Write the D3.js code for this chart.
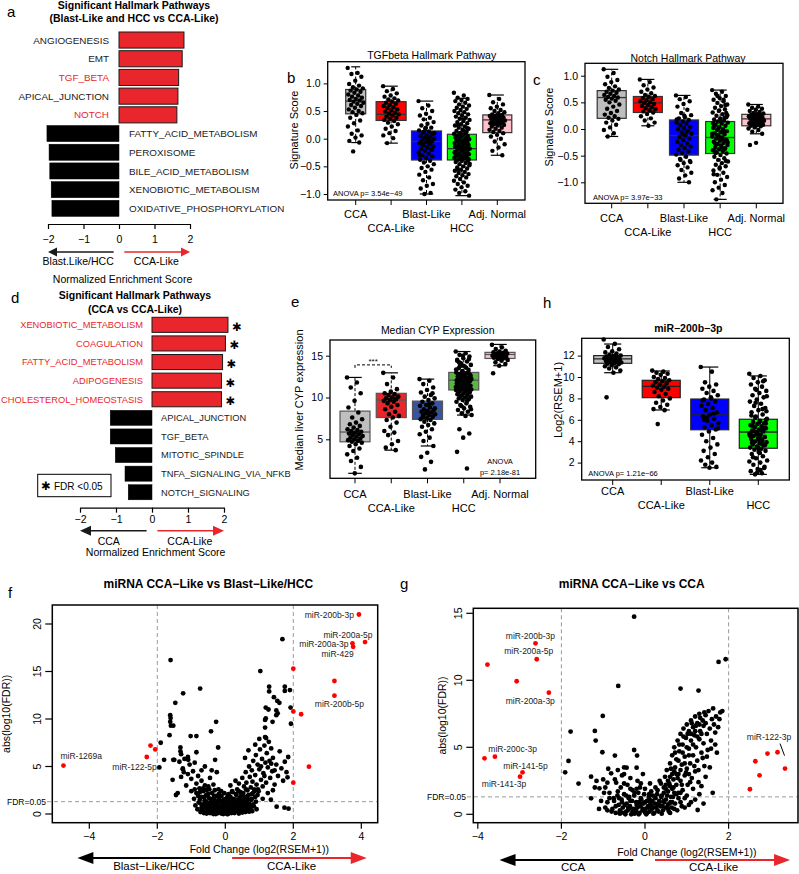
<!DOCTYPE html>
<html><head><meta charset="utf-8">
<script src="https://cdn.jsdelivr.net/npm/d3@7"></script>
<style>body{margin:0;background:#fff}</style>
</head><body><script>
// ================= DATA =================
// Panel a
const aPathways = ["ANGIOGENESIS","EMT","TGF_BETA","APICAL_JUNCTION","NOTCH","FATTY_ACID_METABOLISM","PEROXISOME","BILE_ACID_METABOLISM","XENOBIOTIC_METABOLISM","OXIDATIVE_PHOSPHORYLATION"];
const aNES = [1.83,1.78,1.68,1.66,1.63,-2.03,-1.97,-1.95,-1.91,-1.89];
const aRedLabels = ["TGF_BETA","NOTCH"];
// Panel d
const dPathways = ["XENOBIOTIC_METABOLISM","COAGULATION","FATTY_ACID_METABOLISM","ADIPOGENESIS","CHOLESTEROL_HOMEOSTASIS","APICAL_JUNCTION","TGF_BETA","MITOTIC_SPINDLE","TNFA_SIGNALING_VIA_NFKB","NOTCH_SIGNALING"];
const dNES = [2.11,2.04,1.96,1.93,1.93,-1.16,-1.16,-1.02,-0.75,-0.66];
const dSignificant = [true,true,true,true,true,false,false,false,false,false];
const nesTicks = [-2,-1,0,1,2];

// Box panels
const groups5 = ["CCA","CCA-Like","Blast-Like","HCC","Adj. Normal"];
const groups4 = ["CCA","CCA-Like","Blast-Like","HCC"];
const rColors = ["#bebebe","#ff0000","#0000ff","#00ff00","#ffc0cb"];
const eColors = ["#bfbfbf","#e8262b","#3653a4","#5ab545","#f6c3cc"];

// Panel b: TGFbeta [q1, median, q3, whiskerLow, whiskerHigh]
const bTicks = [-1,-0.5,0,0.5,1];
const bStats = [[0.45,0.68,0.89,-0.07,1.30],[0.33,0.44,0.67,-0.08,0.95],[-0.385,-0.05,0.14,-1.0,0.68],[-0.385,-0.18,0.08,-1.03,0.73],[0.11,0.34,0.43,-0.3,0.79]];
const bCCA = [1.28,1.19,1.17,1.12,1.05,0.99,0.96,0.93,0.91,0.89,0.87,0.85,0.83,0.8,0.78,0.76,0.74,0.72,0.7,0.69,0.67,0.65,0.63,0.61,0.59,0.56,0.53,0.5,0.48,0.46,0.43,0.38,0.33,0.28,0.22,0.15,0.09,0.06,0.02,-0.04,-0.07,-0.23];
const bCCALike = [0.95,0.9,0.86,0.82,0.78,0.76,0.73,0.71,0.69,0.67,0.65,0.63,0.61,0.59,0.57,0.55,0.53,0.51,0.49,0.47,0.45,0.44,0.42,0.4,0.38,0.36,0.34,0.32,0.29,0.26,0.22,0.18,0.14,0.1,0.06,0.01,-0.08];
const bBlast = [0.68,0.6,0.55,0.5,0.45,0.42,0.38,0.35,0.3,0.27,0.24,0.2,0.18,0.15,0.13,0.11,0.09,0.07,0.05,0.04,0.02,0.0,-0.02,-0.03,-0.05,-0.06,-0.08,-0.1,-0.12,-0.14,-0.16,-0.18,-0.2,-0.22,-0.25,-0.27,-0.3,-0.32,-0.35,-0.38,-0.4,-0.43,-0.46,-0.5,-0.53,-0.56,-0.6,-0.65,-0.7,-0.75,-0.82,-0.85,-0.9,-0.98,-1.0,0.1,0.0,-0.1,-0.2,0.2,-0.3,-0.05,0.12];
const bHCC = [0.83,0.78,0.74,0.72,0.7,0.68,0.65,0.62,0.6,0.58,0.56,0.54,0.52,0.5,0.48,0.46,0.44,0.42,0.4,0.38,0.36,0.34,0.32,0.3,0.28,0.26,0.24,0.22,0.2,0.18,0.16,0.14,0.12,0.1,0.09,0.08,0.06,0.05,0.04,0.02,0.01,0.0,-0.01,-0.03,-0.04,-0.05,-0.07,-0.08,-0.09,-0.11,-0.12,-0.13,-0.15,-0.16,-0.17,-0.18,-0.19,-0.2,-0.22,-0.23,-0.24,-0.26,-0.27,-0.28,-0.3,-0.31,-0.32,-0.34,-0.35,-0.36,-0.38,-0.39,-0.4,-0.42,-0.44,-0.46,-0.48,-0.5,-0.52,-0.54,-0.56,-0.58,-0.6,-0.62,-0.64,-0.66,-0.68,-0.7,-0.73,-0.76,-0.79,-0.82,-0.85,-0.88,-0.92,-0.95,-0.98,-1.03,0.15,0.05,-0.05,-0.15,-0.25,-0.35,0.25,-0.1,-0.2,-0.3,0.0,0.1,-0.45,0.35,-0.55,0.19,-0.06,-0.14,-0.21,-0.29,-0.37,0.07,-0.02,0.13];
const bAdj = [0.79,0.72,0.66,0.62,0.58,0.55,0.52,0.5,0.48,0.46,0.44,0.43,0.42,0.41,0.4,0.39,0.38,0.37,0.36,0.35,0.34,0.33,0.32,0.31,0.3,0.29,0.28,0.27,0.26,0.25,0.24,0.22,0.2,0.18,0.16,0.14,0.12,0.1,0.07,0.04,0.0,-0.05,-0.1,-0.16,-0.22,-0.3];

// Panel c: Notch
const cTicks = [-1,-0.5,0,0.5,1];
const cStats = [[0.2,0.59,0.72,-0.14,1.12],[0.31,0.49,0.61,0.06,0.93],[-0.49,-0.125,0.17,-1.0,0.63],[-0.46,-0.16,0.14,-1.32,0.73],[0.06,0.19,0.275,-0.09,0.46]];
const cCCA = [1.12,1.05,0.98,0.92,0.88,0.84,0.8,0.77,0.74,0.72,0.7,0.68,0.66,0.64,0.62,0.6,0.59,0.57,0.55,0.53,0.5,0.46,0.42,0.38,0.34,0.3,0.27,0.24,0.21,0.19,0.16,0.12,0.08,0.03,-0.02,-0.08,-0.14];
const cCCALike = [0.93,0.88,0.82,0.78,0.74,0.7,0.67,0.64,0.62,0.6,0.58,0.56,0.54,0.52,0.5,0.49,0.47,0.45,0.43,0.41,0.39,0.37,0.35,0.33,0.31,0.28,0.24,0.2,0.16,0.12,0.06];
const cBlast = [0.63,0.6,0.56,0.52,0.47,0.42,0.36,0.3,0.26,0.22,0.2,0.17,0.14,0.12,0.1,0.07,0.04,0.02,0.0,-0.03,-0.06,-0.09,-0.12,-0.15,-0.18,-0.21,-0.24,-0.27,-0.3,-0.33,-0.36,-0.39,-0.42,-0.45,-0.48,-0.52,-0.56,-0.6,-0.64,-0.68,-0.72,-0.77,-0.82,-0.87,-0.93,-1.0,-0.1,0.18,-0.05,-0.58,-0.62,0.25];
const cHCC = [0.73,0.7,0.66,0.62,0.58,0.55,0.52,0.49,0.46,0.43,0.4,0.37,0.34,0.31,0.28,0.25,0.22,0.2,0.18,0.16,0.14,0.12,0.1,0.08,0.06,0.04,0.02,0.0,-0.02,-0.04,-0.06,-0.08,-0.1,-0.12,-0.14,-0.16,-0.18,-0.2,-0.22,-0.24,-0.26,-0.28,-0.3,-0.32,-0.34,-0.36,-0.38,-0.4,-0.42,-0.44,-0.46,-0.49,-0.52,-0.55,-0.58,-0.61,-0.64,-0.67,-0.7,-0.74,-0.78,-0.82,-0.86,-0.9,-0.95,-1.0,-1.05,-1.1,-1.15,-1.2,-1.32,0.3,0.15,0.05,-0.05,-0.15,-0.25,-0.35,-0.45,0.45,0.35,0.11,-0.01,-0.11,-0.21,-0.31,-0.41,0.21,0.01,-0.09,-0.19,-0.29,-0.6,-0.72,-0.85,0.55,0.62,0.26,-0.17,-0.27,-0.37];
const cAdj = [0.46,0.42,0.4,0.38,0.36,0.34,0.32,0.3,0.29,0.28,0.27,0.26,0.25,0.24,0.23,0.22,0.21,0.2,0.19,0.18,0.17,0.16,0.15,0.14,0.13,0.12,0.11,0.1,0.09,0.08,0.07,0.06,0.05,0.03,0.01,-0.02,-0.05,-0.09,-0.26,-0.3,0.215,0.185,0.155,0.125,0.095,0.245,0.275];

// Panel e: median CYP
const eTicks = [5,10,15];
const eStats = [[4.7,5.87,8.37,0.93,12.4],[7.6,9.7,10.5,3.7,12.95],[7.38,8.5,9.57,4.2,12.2],[10.9,12.08,13.0,7.9,15.5],[14.67,15.15,15.4,13.8,16.35]];
const eCCA = [12.4,11.8,11.2,10.5,9.6,8.8,8.2,7.6,7.4,7.0,6.8,6.6,6.4,6.2,6.1,6.0,5.9,5.8,5.7,5.6,5.5,5.4,5.3,5.2,5.1,5.0,4.9,4.8,4.7,4.6,4.4,4.2,3.9,3.6,3.2,2.8,2.4,1.7,0.93];
const eCCALike = [12.95,12.4,11.6,11.0,10.7,10.5,10.4,10.3,10.1,10.0,9.9,9.8,9.7,9.6,9.5,9.3,9.1,8.9,8.6,8.3,8.0,7.8,7.6,7.3,7.0,6.5,6.0,5.8,5.5,4.8,4.4,4.0,3.7];
const eBlast = [12.2,12.0,11.6,11.2,10.9,10.6,10.3,10.1,9.9,9.7,9.5,9.3,9.1,9.0,8.8,8.6,8.5,8.4,8.3,8.2,8.1,8.0,7.9,7.8,7.7,7.5,7.4,7.3,7.1,6.9,6.7,6.5,6.2,5.9,5.6,5.2,4.8,4.2,3.4,2.9,2.3,1.4,8.7,9.2,7.6,10.5];
const eHCC = [15.5,15.3,15.1,14.9,14.7,14.5,14.3,14.1,13.9,13.7,13.5,13.3,13.1,13.0,12.9,12.8,12.7,12.6,12.5,12.4,12.3,12.2,12.1,12.0,11.9,11.8,11.7,11.6,11.5,11.4,11.3,11.2,11.1,11.0,10.9,10.8,10.7,10.6,10.5,10.4,10.3,10.2,10.1,10.0,9.9,9.8,9.7,9.5,9.3,9.1,8.9,8.7,8.5,8.3,8.1,7.9,7.8,6.2,5.7,5.2,3.5,1.5,12.15,12.35,12.55,12.75,12.95,13.15,13.35,13.55,13.75,11.95,11.75,11.55,11.35,11.15,10.95,10.75,14.2,14.6,15.0,12.05,12.25,12.45,12.65,12.85,11.85,11.65,11.45,11.25,11.05,10.85,10.65,13.8,14.4,9.6,9.0,8.6];
const eAdj = [16.3,16.0,15.8,15.6,15.5,15.4,15.35,15.3,15.25,15.2,15.15,15.1,15.05,15.0,14.95,14.9,14.85,14.8,14.75,14.7,14.6,14.5,14.4,14.2,14.0,13.8,12.9];

// Panel h: miR-200b-3p
const hTicks = [2,4,6,8,10,12];
const hStats = [[11.28,11.7,12.0,10.4,13.08],[8.07,9.13,9.69,6.92,10.56],[5.07,6.45,7.94,1.52,10.93],[3.34,4.86,6.05,0.9,10.1]];
const hCCA = [13.5,13.1,12.8,12.6,12.4,12.3,12.2,12.1,12.0,11.95,11.9,11.85,11.8,11.75,11.7,11.65,11.6,11.55,11.5,11.45,11.4,11.35,11.3,11.25,11.2,11.1,11.0,10.9,10.8,10.6,10.4,8.1];
const hCCALike = [10.6,10.5,10.4,10.3,10.2,10.0,9.9,9.8,9.7,9.6,9.5,9.4,9.3,9.2,9.1,9.0,8.9,8.8,8.6,8.4,8.2,8.0,7.8,7.6,7.4,7.2,7.0,6.9,5.6];
const hBlast = [10.93,10.5,9.5,9.3,9.1,8.9,8.7,8.5,8.3,8.1,7.9,7.7,7.5,7.3,7.1,6.9,6.7,6.5,6.3,6.1,5.9,5.7,5.5,5.3,5.1,4.9,4.6,4.3,4.0,3.7,3.4,3.1,2.8,2.5,2.2,2.0,1.8,1.6,1.52,7.8,6.6,6.2,5.2,8.0,6.0];
const hHCC = [10.3,10.1,9.9,9.7,9.5,9.3,9.1,8.9,8.7,8.5,8.3,8.1,7.9,7.7,7.5,7.3,7.1,6.9,6.7,6.5,6.3,6.1,5.9,5.8,5.7,5.6,5.5,5.4,5.3,5.2,5.1,5.0,4.9,4.8,4.7,4.6,4.5,4.4,4.3,4.2,4.1,4.0,3.9,3.8,3.7,3.6,3.5,3.4,3.3,3.2,3.1,3.0,2.8,2.6,2.4,2.2,2.0,1.8,1.6,1.4,1.2,1.0,0.9,6.0,5.75,5.45,5.15,4.85,4.55,4.25,3.95,3.65,3.35,6.4,7.0,7.6,8.2,2.9,2.5,1.5,1.1,4.75,5.05,5.35,5.65,4.15,3.85,9.6,8.8,2.1,1.3,4.95,5.25,4.65,4.35,3.75,6.2,6.8];

// Panel f: volcano miRNA CCA-Like vs Blast-Like/HCC  [log2FC, abs(log10 FDR)]
const fTicksX = [-4,-2,0,2,4];
const fTicksY = [0,5,10,15,20];
const fRed = [["miR-200b-3p",3.93,21.0],["miR-200a-5p",4.11,18.1],["miR-200a-3p",3.74,17.97],["miR-429",3.76,17.6],["",3.21,14.0],["miR-200b-5p",3.21,12.45],["",2.0,15.3],["",2.0,10.8],["",2.23,10.5],["",2.46,4.98],["",2.0,3.3],["miR-1269a",-4.76,5.1],["",-2.2,7.2],["",-2.06,6.8],["miR-122-5p",-2.31,6.0]];
const fBlack = [[-0.8,1.9],[-0.75,1.5],[-0.7,1.0],[-0.68,0.4],[-0.62,1.8],[-0.6,0.8],[-0.58,0.2],[-0.55,1.3],[-0.52,0.5],[-0.5,2.1],[-0.48,0.9],[-0.45,0.1],[-0.43,1.6],[-0.4,0.6],[-0.38,1.1],[-0.36,0.3],[-0.33,1.9],[-0.3,0.8],[-0.28,0.0],[-0.26,1.4],[-0.24,0.5],[-0.22,1.0],[-0.2,0.2],[-0.18,1.7],[-0.16,0.7],[-0.14,0.1],[-0.12,1.2],[-0.1,0.4],[-0.08,0.9],[-0.06,0.0],[-0.04,1.5],[-0.02,0.6],[0,0.2],[0.02,1.1],[0.04,0.4],[0.06,1.8],[0.08,0.0],[0.1,0.8],[0.12,1.4],[0.14,0.3],[0.16,1.0],[0.18,0.1],[0.2,1.6],[0.22,0.5],[0.24,0.9],[0.26,0.2],[0.28,1.3],[0.3,0.6],[0.33,2.0],[0.36,0.3],[0.38,1.1],[0.4,0.7],[0.43,1.7],[0.46,0.4],[0.48,1.2],[0.5,0.9],[0.53,2.2],[0.56,0.5],[0.6,1.4],[0.63,0.8],[0.66,1.9],[0.7,1.1],[0.74,0.6],[0.78,1.6],[0.82,1.0],[0.86,2.4],[0.9,1.3],
[-0.92,1.6],[-0.88,0.9],[-0.85,2.2],[-0.82,0.5],[-0.78,1.2],[-0.76,2.7],[-0.73,0.2],[-0.71,1.8],[-0.67,0.9],[-0.65,2.4],[-0.63,0.1],[-0.61,1.4],[-0.57,0.6],[-0.56,2.0],[-0.53,1.1],[-0.51,0.3],[-0.49,1.7],[-0.47,2.6],[-0.44,0.8],[-0.42,1.3],[-0.41,0.2],[-0.39,2.2],[-0.37,0.5],[-0.34,1.5],[-0.32,0.9],[-0.31,2.5],[-0.29,0.3],[-0.27,1.9],[-0.25,0.8],[-0.23,1.2],[-0.21,0.1],[-0.19,2.1],[-0.17,0.4],[-0.15,1.4],[-0.13,0.7],[-0.11,1.9],[-0.09,0.2],[-0.07,1.2],[-0.05,0.7],[-0.03,2.2],[-0.01,0.3],[0.01,1.6],[0.03,0.8],[0.05,0.0],[0.07,1.3],[0.09,2.1],[0.11,0.5],[0.13,0.9],[0.15,1.8],[0.17,0.2],[0.19,1.2],[0.21,2.3],[0.23,0.7],[0.25,1.6],[0.27,0.1],[0.29,1.0],[0.31,2.1],[0.34,0.4],[0.35,1.5],[0.37,0.9],[0.39,2.4],[0.41,0.2],[0.42,1.3],[0.44,0.8],[0.47,2.0],[0.49,0.3],[0.51,1.5],[0.54,0.7],[0.57,1.8],[0.59,0.2],[0.61,2.6],[0.64,1.2],[0.67,0.4],[0.69,2.0],[0.72,0.9],[0.76,1.5],[0.79,0.3],[0.81,2.2],[0.84,0.8],[0.88,1.8],[0.92,0.5],[0.96,2.6],
[-0.55,0.05],[-0.35,0.0],[-0.15,0.35],[0.0,0.55],[0.2,0.35],[0.4,0.05],[0.6,0.6],[-0.45,0.45],[0.32,0.75],[-0.25,0.6],[0.1,0.15],[0.5,0.15],[-0.7,0.65],[0.7,0.25],[-0.1,0.05],[0.45,1.0],[-0.4,0.95],[0.25,0.45],[-0.05,1.0],[0.15,1.35],[-0.3,1.15],[0.05,0.75],[0.35,1.2],[-0.2,0.45],[0.55,1.1],[-0.6,1.1],[0.65,1.5],[-0.35,1.6],[0.1,1.95],[-0.12,2.4],
[-0.55,2.5],[-0.6,3.0],[-0.65,2.7],[-0.7,3.5],[-0.75,2.3],[-0.8,4.0],[-0.85,3.2],[-0.9,2.6],[-0.95,4.5],[-1.0,3.7],[-1.05,5.2],[-1.1,4.2],[-1.15,3.0],[-1.2,5.8],[-1.25,4.8],[-1.3,6.3],[-1.35,5.5],[-1.4,2.2],[-1.45,2.0],[-1.5,5.7],[-1.55,3.6],[-0.45,3.8],[-0.4,4.6],[-0.3,5.7],[-0.25,4.4],[-0.6,5.0],[-0.7,4.6],[-0.5,2.9],[-0.9,5.4],[-0.85,6.5],[-1.1,6.0],[-0.35,3.1],[-0.2,2.6],[-1.0,2.4],[-1.3,3.9],[-1.09,5.7],[-1.25,4.7],[-1.22,4.4],
[-1.61,16.2],[-0.74,13.2],[-1.24,12.7],[-1.47,11.7],[-1.62,10.4],[-1.61,10.1],[-1.62,9.7],[-1.6,9.3],[-1.53,9.3],[-0.27,9.7],[-1.9,7.5],[-1.64,8.3],[-1.02,8.2],[-0.85,8.2],[-0.42,8.7],[-0.21,7.0],[-1.32,7.0],[-1.32,6.6],[-1.8,5.7],[-1.53,5.7],[-1.94,4.9],
[0.35,2.6],[0.4,3.2],[0.45,2.3],[0.5,3.8],[0.55,2.9],[0.6,4.4],[0.62,3.3],[0.65,2.5],[0.7,5.0],[0.72,3.9],[0.75,2.8],[0.78,4.6],[0.8,3.4],[0.82,5.6],[0.85,2.6],[0.88,4.1],[0.9,6.2],[0.92,3.1],[0.95,5.2],[0.98,2.4],[1.0,4.7],[1.02,6.8],[1.05,3.6],[1.08,5.8],[1.1,2.9],[1.12,4.3],[1.15,7.2],[1.18,5.4],[1.2,3.3],[1.22,6.4],[1.25,4.9],[1.28,7.6],[1.3,5.6],[1.32,3.8],[1.35,6.9],[1.38,4.5],[1.4,5.9],[1.45,3.1],[1.5,5.2],[1.55,4.0],[1.6,6.6],[1.65,4.8],[1.7,3.5],[1.75,5.5],[1.8,4.4],[1.85,6.0],[0.58,5.9],[0.68,6.7],[0.88,7.3],[1.0,7.9],[0.78,2.1],[0.95,2.0],[1.1,1.6],[1.25,2.2],[1.4,2.5],[0.3,3.5],[0.2,2.4],[0.15,3.0],[1.2,8.0],[1.35,5.3],[1.45,4.6],[1.05,5.0],[1.15,4.0],
[1.68,18.4],[1.03,15.05],[1.29,13.4],[1.29,12.9],[1.75,13.4],[1.75,12.95],[1.9,13.05],[1.43,12.3],[1.53,11.9],[1.59,11.7],[1.19,11.2],[1.27,11.0],[1.5,10.9],[1.92,11.2],[1.54,10.6],[1.5,10.4],[1.19,10.07],[1.17,9.9],[1.39,9.7],[1.93,9.5],[1.17,9.1],[1.17,8.1],[1.83,3.86],[1.34,1.5],[1.51,0.77],[1.74,0.67],[1.86,0.56]];

// Panel g: volcano miRNA CCA-Like vs CCA
const gTicksX = [-4,-2,0,2];
const gTicksY = [0,5,10,15];
const gRed = [["miR-200b-3p",-2.62,12.76],["miR-200a-5p",-2.59,11.57],["",-3.77,11.17],["",-3.07,9.93],["miR-200a-3p",-2.3,9.08],["miR-200c-3p",-3.59,4.3],["",-3.84,4.18],["miR-141-5p",-2.93,3.13],["miR-141-3p",-2.99,2.81],["",2.51,1.87],["",2.64,3.96],["",2.74,2.91],["",2.93,4.53],["",3.17,4.63],["miR-122-3p",3.35,3.41]];
const gBlack = [[-0.26,14.75],[-0.64,9.58],[0.85,9.38],[1.28,9.23],[1.76,11.37],[1.93,11.57],[-1.01,7.34],[-1.78,6.17],[-1.2,6.22],[-1.18,5.5],[-1.83,3.98],[-1.91,3.13],[-1.59,2.29],[-1.02,4.63],[-0.72,4.38],[-1.29,1.19],[-0.26,4.8],[-0.19,4.38],[-1.29,2.81],[-1.16,2.49],[-1.09,1.94],[-0.81,3.06],[-0.9,2.36],[-0.69,2.36],[-0.44,3.48],[-0.2,3.48],[-0.5,3.0],
[0.2,0.5],[0.25,1.2],[0.3,0.3],[0.3,1.8],[0.35,0.9],[0.38,2.3],[0.4,1.4],[0.42,0.6],[0.45,2.0],[0.48,2.8],[0.5,1.1],[0.52,3.3],[0.55,1.7],[0.55,2.5],[0.58,0.8],[0.6,3.8],[0.6,2.1],[0.62,1.3],[0.65,3.0],[0.65,4.4],[0.68,2.6],[0.7,1.6],[0.7,5.0],[0.72,3.5],[0.75,2.2],[0.75,4.1],[0.78,5.5],[0.8,3.0],[0.8,1.2],[0.82,4.7],[0.85,2.5],[0.85,6.0],[0.88,3.7],[0.9,5.2],[0.9,1.8],[0.92,6.4],[0.95,4.3],[0.95,2.9],[0.98,5.7],[1.0,3.4],[1.0,6.7],[1.02,2.2],[1.05,4.9],[1.05,6.2],[1.08,3.8],[1.1,5.5],[1.1,7.0],[1.12,2.7],[1.15,4.4],[1.15,6.5],[1.18,5.9],[1.2,3.2],[1.2,7.3],[1.22,5.0],[1.25,6.8],[1.25,4.0],[1.28,2.4],[1.3,5.6],[1.3,7.5],[1.32,6.2],[1.35,4.6],[1.38,7.0],[1.4,5.3],[1.4,6.6],[1.42,3.6],[1.45,7.4],[1.48,6.0],[1.5,4.8],[1.52,7.7],[1.55,6.4],[1.58,5.5],[1.6,7.1],[1.63,7.9],[1.65,6.7],[1.7,7.3],[1.75,6.5],[1.8,7.6],[1.85,7.7],[1.68,5.2],[1.72,4.6],[1.45,2.8],[1.55,3.5],[1.3,1.5],[1.26,0.32],[1.1,0.9],[0.95,0.5],[1.0,1.4],[1.35,2.1],[1.62,1.6],[1.4,0.8],[0.7,0.4],[0.85,0.9],
[0.6,2.8],[0.7,3.2],[0.8,4.0],[0.9,4.6],[1.0,5.0],[1.1,6.0],[1.2,6.2],[1.3,6.7],[0.75,3.0],[0.95,3.8],[1.05,4.4],[1.15,5.2],[1.25,5.8],[1.35,6.0],[1.45,6.8],[0.65,1.9],[0.85,3.3],[1.05,3.0],[0.62,3.4],[0.72,4.6],[0.82,5.2],[0.92,5.8],[1.02,6.0],[1.12,6.8],[1.22,6.6],[1.32,7.2],[1.42,7.6],[0.58,2.3],[0.68,2.0],[0.78,2.7],[0.88,2.2],[0.98,3.1],[1.08,2.4],[1.18,3.6],[1.28,3.3],[1.38,4.2],[1.48,4.3],[1.58,4.9],[1.68,6.1],[1.78,7.1],[0.5,1.9],[0.45,1.0],[0.55,0.4],[0.65,0.9],[0.75,1.5],[0.85,1.6],[0.95,1.2],[1.15,1.9],[1.05,0.7],[1.2,1.1],
[-0.6,0.3],[-0.55,0.9],[-0.5,0.1],[-0.45,1.4],[-0.4,0.5],[-0.35,1.0],[-0.3,0.2],[-0.25,1.6],[-0.2,0.7],[-0.15,0.0],[-0.1,1.2],[-0.05,0.4],[0,0.9],[0.05,0.1],[0.1,1.5],[0.15,0.6],[-0.65,1.7],[-0.7,0.6],[-0.75,1.2],[-0.8,0.2],[-0.85,1.6],[-0.9,0.9],[-0.58,2.0],[-0.42,2.2],[-0.3,1.8],[-0.12,2.0],[0.0,1.9],[0.12,2.3],[-0.48,0.7],[-0.22,0.3],[-0.08,0.8],[0.08,0.5],[0.18,1.0],[-0.38,1.3],[-0.62,1.2],[-0.95,2.0],[-1.0,2.6],[-0.72,2.6],[-0.55,2.9],[-0.35,2.7],[-0.18,2.5],[-0.05,3.0],[-0.88,3.4],[-0.65,3.3],[-0.5,3.5],
[-0.78,0.4],[-0.74,1.0],[-0.7,0.1],[-0.66,1.4],[-0.63,0.7],[-0.59,0.2],[-0.56,1.1],[-0.53,0.5],[-0.5,1.5],[-0.47,0.0],[-0.44,0.8],[-0.41,0.3],[-0.39,1.2],[-0.36,0.6],[-0.33,0.0],[-0.31,1.0],[-0.28,0.4],[-0.26,1.4],[-0.23,0.2],[-0.21,0.9],[-0.18,0.5],[-0.16,1.6],[-0.13,0.1],[-0.11,0.6],[-0.09,1.1],[-0.06,0.3],[-0.04,0.8],[-0.02,1.5],[0.01,0.4],[0.03,0.0],[0.05,1.0],[0.07,0.6],[0.09,1.3],[0.11,0.2],[0.13,0.8],[0.16,0.4],[0.19,1.4],[0.22,0.1],[0.24,0.8],[0.27,0.5],[0.29,1.5],[0.32,0.2],[0.34,1.0],[0.37,0.6],[0.39,1.3],[0.43,0.3],[0.46,0.9],[0.5,0.5],[0.53,1.4],[0.57,0.2],[0.61,0.9],[0.64,0.5],[0.67,1.3],[0.72,0.8],[0.77,0.3],[0.8,1.6],[0.88,0.6],[-0.35,1.9],[-0.2,1.9],[0.25,2.0],[0.45,1.6],[-0.5,2.3],[0.15,1.7],[0.35,2.5],[0.5,2.2],[-0.1,2.3],[-0.45,0.2],[0.0,0.15],[-0.25,0.05],[0.2,0.05],[0.4,0.05],[-0.6,0.05],[0.6,0.1],[-0.15,0.9],[0.12,1.05],[-0.38,0.45],[0.3,0.75],[0.55,0.7],[-1.05,1.0],[-0.95,0.5],[-0.85,1.2],[-1.2,2.0],[-0.98,1.6],[-0.9,0.3],[-1.1,0.4]];
const fdrCut = 1.3;
const fcCut = [-2,2];

// ================= DRAWING =================
const FONT = '"Liberation Sans", Arial, Helvetica, sans-serif';
const svg = d3.select("body").append("svg").attr("width",799).attr("height",874)
  .style("font-family",FONT).style("background","#fff");

function text(x,y,s,o={}){
  const t = svg.append("text").attr("x",x).attr("y",y).text(s)
    .attr("font-size",o.fs||10).attr("fill",o.fill||"#000")
    .attr("text-anchor",o.anchor||"start");
  if(o.bold) t.attr("font-weight","bold");
  if(o.rot) t.attr("transform",`rotate(${o.rot},${x},${y})`);
  if(o.family) t.attr("font-family",o.family);
  return t;
}
function arrow(x1,x2,y,color,w,hl,hw){
  const dir = Math.sign(x2-x1);
  svg.append("line").attr("x1",x1).attr("x2",x2-dir*hl*0.9).attr("y1",y).attr("y2",y)
    .attr("stroke",color).attr("stroke-width",w);
  svg.append("path").attr("d",`M${x2},${y} L${x2-dir*hl},${y-hw} L${x2-dir*hl},${y+hw} Z`).attr("fill",color);
}

// panel letters
[["a",7,17],["b",287,83],["c",533,85],["d",11,303],["e",291,307],["h",543,308],["f",8,598],["g",400,589]]
  .forEach(([l,x,y])=>text(x,y,l,{fs:15}));

// ----- bar panels -----
function barPanel(o){
  const x = d3.scaleLinear().domain([-2,2]).range(o.xr);
  const y = d3.scaleBand().domain(o.names).range(o.yr).paddingInner(o.pad);
  o.names.forEach((n,i)=>{
    const v = o.vals[i];
    svg.append("rect").attr("x",Math.min(x(0),x(v))).attr("y",y(n))
      .attr("width",Math.abs(x(v)-x(0))).attr("height",y.bandwidth())
      .attr("fill",v>0?"#e8262b":"#000").attr("stroke",v>0?"#1a1a1a":"#000").attr("stroke-width",v>0?1:0.5);
    const redLabel = o.redLabel(n,i);
    text(v>0?x(0)-o.lgap:x(0)+o.lgap, y(n)+y.bandwidth()/2+o.fs*0.36, n,
      {fs:o.fs, anchor:v>0?"end":"start", fill:redLabel?"#e8262b":"#1a1a1a"});
    if(o.star && o.star[i]) text(x(v)+4, y(n)+y.bandwidth()/2+6, "\u2731",{fs:11.5, family:"DejaVu Sans"});
  });
  const ax = svg.append("g").attr("transform",`translate(0,${o.axisY})`)
    .call(d3.axisBottom(x).tickValues(nesTicks).tickSize(5).tickPadding(o.tpad).tickSizeOuter(0).tickFormat(d3.format("d")));
  ax.attr("font-family",FONT).attr("font-size",o.tfs);
  ax.select(".domain").attr("stroke-width",1.2);
  ax.selectAll("line").attr("stroke-width",1.2);
  arrow(x(-0.15),x(-2),o.arrowY,"#1a1a1a",1.6,o.hl,o.hw);
  arrow(x(0.15),x(2),o.arrowY,"#e8262b",1.6,o.hl,o.hw);
  return x;
}
// a
text(134,9,"Significant Hallmark Pathways",{fs:10.5,bold:true,anchor:"middle"});
text(134,22,"(Blast-Like and HCC vs CCA-Like)",{fs:10.5,bold:true,anchor:"middle"});
const xa = barPanel({names:aPathways, vals:aNES, xr:[48,190], yr:[32,216.4], pad:0.14, fs:9.9, lgap:10,
  redLabel:(n)=>aRedLabels.includes(n), axisY:224, tpad:7, tfs:10.5, arrowY:252, hl:9, hw:4.5});
text(xa(-1.15),265,"Blast.Like/HCC",{fs:10.5,anchor:"middle"});
text(xa(1.05),265,"CCA-Like",{fs:10.5,anchor:"middle"});
text(xa(0.1),283,"Normalized Enrichment Score",{fs:10.5,anchor:"middle"});
// d
text(135,299,"Significant Hallmark Pathways",{fs:10.5,bold:true,anchor:"middle"});
text(135,313,"(CCA vs CCA-Like)",{fs:10.5,bold:true,anchor:"middle"});
const xd = barPanel({names:dPathways, vals:dNES, xr:[80,224], yr:[317.3,499.8], pad:0.19, fs:9.3, lgap:9,
  redLabel:(n,i)=>dNES[i]>0, star:dSignificant, axisY:507.7, tpad:3, tfs:10.5, arrowY:530.7, hl:11, hw:5});
text(xd(-1.2),545,"CCA",{fs:10.5,anchor:"middle"});
text(xd(1.05),545,"CCA-Like",{fs:10.5,anchor:"middle"});
text(xd(0.1),556,"Normalized Enrichment Score",{fs:10.5,anchor:"middle"});
svg.append("rect").attr("x",37.7).attr("y",474.3).attr("width",73.3).attr("height",22.4).attr("fill","#fff").attr("stroke","#000").attr("stroke-width",1);
text(41,490,"\u2731",{fs:11.5,family:"DejaVu Sans"});
text(54,489.5,"FDR <0.05",{fs:10});

// ----- box panels -----
const jit = j => ((j*0.6180339887)%1)*2-1;
function boxPanel(o){
  const x = d3.scalePoint().domain(o.groups).range(o.xr);
  const y = d3.scaleLinear().domain(o.yd).range(o.yr);
  svg.append("rect").attr("x",o.f[0]).attr("y",o.f[1]).attr("width",o.f[2]-o.f[0]).attr("height",o.f[3]-o.f[1])
    .attr("fill","none").attr("stroke","#000").attr("stroke-width",1.3);
  const ya = svg.append("g").attr("transform",`translate(${o.f[0]},0)`)
    .call(d3.axisLeft(y).tickValues(o.ticks).tickSize(4).tickPadding(3).tickFormat(o.fmt));
  ya.attr("font-family",FONT).attr("font-size",o.tfs);
  ya.select(".domain").remove();
  o.groups.forEach((g,i)=>{
    const cx = x(g);
    svg.append("line").attr("x1",cx).attr("x2",cx).attr("y1",o.f[3]).attr("y2",o.f[3]+5).attr("stroke","#000");
    text(cx, i%2===0?o.lab[0]:o.lab[1], g, {fs:o.lfs, anchor:"middle"});
    const [q1,md,q3,lo,hi] = o.stats[i];
    const w = Array.isArray(o.bw)?o.bw[i]:o.bw;
    const cw = w*0.45;
    [[q3,hi],[q1,lo]].forEach(([a,b])=>{
      svg.append("line").attr("x1",cx).attr("x2",cx).attr("y1",y(a)).attr("y2",y(b))
        .attr("stroke","#000").attr("stroke-width",1).attr("stroke-dasharray",o.dash?"3,2":null);
      svg.append("line").attr("x1",cx-cw/2).attr("x2",cx+cw/2).attr("y1",y(b)).attr("y2",y(b))
        .attr("stroke","#000").attr("stroke-width",1.2);
    });
    svg.append("rect").attr("x",cx-w/2).attr("y",y(q3)).attr("width",w).attr("height",y(q1)-y(q3))
      .attr("fill",o.colors[i]).attr("stroke",o.stroke).attr("stroke-width",1.2);
    svg.append("line").attr("x1",cx-w/2).attr("x2",cx+w/2).attr("y1",y(md)).attr("y2",y(md))
      .attr("stroke",o.stroke).attr("stroke-width",1.3);
    o.pts[i].forEach((v,j)=>{
      svg.append("circle").attr("cx",cx+jit(j)*o.jw).attr("cy",y(v)).attr("r",o.r).attr("fill","#000");
    });
  });
  return {x,y};
}
const f1 = d3.format(".1f");
// b
text(431.7,59,"TGFbeta Hallmark Pathway",{fs:10.5,anchor:"middle"});
boxPanel({groups:groups5, xr:[355.7,497.3], yd:[0,1], yr:[138.7,83.4], f:[327.7,61.7,525,200],
  ticks:bTicks, fmt:f1, tfs:10.5, lab:[218,232], lfs:11, stats:bStats, bw:[20,30,30,29,29], dash:true,
  colors:rColors, stroke:"#333", pts:[bCCA,bCCALike,bBlast,bHCC,bAdj], jw:8, r:2.2});
text(298,130,"Signature Score",{fs:11,anchor:"middle",rot:-90});
text(333,196,"ANOVA p= 3.54e\u221249",{fs:7.5});
// c
text(688,62,"Notch Hallmark Pathway",{fs:10.5,anchor:"middle"});
boxPanel({groups:groups5, xr:[611.7,756.3], yd:[0,1], yr:[129,75.7], f:[585,63.3,783,203.3],
  ticks:cTicks, fmt:f1, tfs:10.5, lab:[222,236], lfs:11, stats:cStats, bw:29, dash:true,
  colors:rColors, stroke:"#333", pts:[cCCA,cCCALike,cBlast,cHCC,cAdj], jw:8, r:2.2});
text(553,127,"Signature Score",{fs:11,anchor:"middle",rot:-90});
text(593,200,"ANOVA p= 3.97e\u221233",{fs:7.5});
// e
text(437.7,334,"Median CYP Expression",{fs:10.5,anchor:"middle"});
const eb = boxPanel({groups:groups5, xr:[355,500], yd:[0,15], yr:[481.1,355.7], f:[330,340,535.7,478.3],
  ticks:eTicks, fmt:d3.format("d"), tfs:10.5, lab:[498,512], lfs:11, stats:eStats, bw:30, dash:true,
  colors:eColors, stroke:"#555", pts:[eCCA,eCCALike,eBlast,eHCC,eAdj], jw:8, r:2.3});
text(303,400,"Median liver CYP expression",{fs:11,anchor:"middle",rot:-90});
{
  const yb = eb.y(13.9);
  svg.append("path").attr("d",`M${eb.x("CCA")},${yb+3} V${yb} H${eb.x("CCA-Like")} V${yb+3}`)
    .attr("fill","none").attr("stroke","#000").attr("stroke-dasharray","3,2");
  text((eb.x("CCA")+eb.x("CCA-Like"))/2, yb-1, "***",{fs:8,anchor:"middle"});
}
text(500,464,"ANOVA",{fs:7.5,anchor:"middle"});
text(500,474.5,"p= 2.18e-81",{fs:7.5,anchor:"middle"});
// h
text(688.3,332,"miR\u2212200b\u22123p",{fs:10.5,bold:true,anchor:"middle"});
boxPanel({groups:groups4, xr:[612.7,758.3], yd:[0,12], yr:[484,355.6], f:[581.7,338.3,789.3,480],
  ticks:hTicks, fmt:d3.format("d"), tfs:10.5, lab:[495,509], lfs:11, stats:hStats, bw:38, dash:false,
  colors:rColors, stroke:"#222", pts:[hCCA,hCCALike,hBlast,hHCC], jw:9, r:2.3});
text(562,400,"Log2(RSEM+1)",{fs:11,anchor:"middle",rot:-90});
text(588.3,476,"ANOVA p= 1.21e\u221266",{fs:7.5});

// ----- volcano panels -----
function volcano(o){
  const x = d3.scaleLinear().domain([0,2]).range([o.x0,o.x2]);
  const y = d3.scaleLinear().domain([0,5]).range([o.y0,o.y5]);
  const [L,T,R,B] = o.f;
  fcCut.forEach(c=>svg.append("line").attr("x1",x(c)).attr("x2",x(c)).attr("y1",T).attr("y2",B)
    .attr("stroke","#9a9a9a").attr("stroke-dasharray","4,3"));
  svg.append("line").attr("x1",o.fdrX1).attr("x2",R).attr("y1",y(fdrCut)).attr("y2",y(fdrCut))
    .attr("stroke","#9a9a9a").attr("stroke-dasharray","4,3");
  text(o.fdrX1-1,y(fdrCut)+3,"FDR=0.05",{fs:8.5,anchor:"end"});
  o.black.forEach(([a,b])=>svg.append("circle").attr("cx",x(a)).attr("cy",y(b)).attr("r",2.4).attr("fill","#000"));
  o.red.forEach(([n,a,b])=>svg.append("circle").attr("cx",x(a)).attr("cy",y(b)).attr("r",2.4).attr("fill","#ff0000"));
  o.red.forEach(([n,a,b])=>{
    if(!n) return; const L2 = o.labels[n];
    text(x(a)+L2[0], y(b)+L2[1], n, {fs:8.5, anchor:L2[2], fill:"#222"});
    if(L2[3]) svg.append("line").attr("x1",x(a)+L2[3][0]).attr("y1",y(b)+L2[3][1]).attr("x2",x(a)+L2[3][2]).attr("y2",y(b)+L2[3][3]).attr("stroke","#000");
  });
  svg.append("rect").attr("x",L).attr("y",T).attr("width",R-L).attr("height",B-T).attr("fill","none").attr("stroke","#000").attr("stroke-width",1.5);
  o.tx.forEach(t=>{
    svg.append("line").attr("x1",x(t)).attr("x2",x(t)).attr("y1",B).attr("y2",B+6).attr("stroke","#000").attr("stroke-width",1.2);
    text(x(t),B+17,d3.format("d")(t),{fs:10.5,anchor:"middle"});
  });
  o.ty.forEach(t=>{
    svg.append("line").attr("x1",L-7).attr("x2",L).attr("y1",y(t)).attr("y2",y(t)).attr("stroke","#000").attr("stroke-width",1.2);
    text(L-11,y(t),String(t),{fs:10.5,anchor:"middle",rot:-90});
  });
  text((o.x0+o.x2)/2 + (o.xlOff||0), o.xlY, "Fold Change (log2(RSEM+1))",{fs:10.5,anchor:"middle"});
  text(o.ylX, (T+B)/2, "abs(log10(FDR))",{fs:10.5,anchor:"middle",rot:-90});
  text(o.titleX, 588, o.title, {fs:12, anchor:"middle", bold:true});
  arrow(x(o.arB[0]),x(o.arB[1]),o.arY,"#000",2,16,6);
  arrow(x(o.arR[0]),x(o.arR[1]),o.arY,"#e8262b",2,16,6);
  text(x(o.tB[0]),o.tY,o.tB[1],{fs:11.5,anchor:"middle"});
  text(x(o.tR[0]),o.tY,o.tR[1],{fs:11.5,anchor:"middle"});
}
volcano({x0:225.3,x2:293.3,y0:814,y5:766.5,f:[52.3,605,377.7,822.7], tx:fTicksX, ty:fTicksY, fdrX1:47,
  black:fBlack, red:fRed, xlY:853, ylX:10, titleX:208.3, title:"miRNA CCA\u2212Like vs Blast\u2212Like/HCC",
  labels:{"miR-200b-3p":[-5,3.5,"end"],"miR-200a-5p":[7.5,-4,"end"],"miR-200a-3p":[-4,4,"end"],"miR-429":[0.5,10,"end"],
    "miR-200b-5p":[5,11,"middle"],"miR-1269a":[-3,-6.5,"start"],"miR-122-5p":[10,13,"end"]},
  arB:[-0.43,-4.35], arR:[0.2,4.16], arY:858, tB:[-2.1,"Blast\u2212Like/HCC"], tR:[1.95,"CCA-Like"], tY:870});
volcano({x0:645,x2:728.6,y0:814.3,y5:747.3,f:[473.3,608.3,798,822.7], tx:gTicksX, ty:gTicksY, fdrX1:467,
  black:gBlack, red:gRed, xlY:855.5, ylX:446, titleX:631.7, title:"miRNA CCA\u2212Like vs CCA",
  labels:{"miR-200b-3p":[19.5,-4.8,"end"],"miR-200a-5p":[16.6,-5.3,"end"],"miR-200a-3p":[6,11,"end"],"miR-200c-3p":[-6.6,-5,"start"],
    "miR-141-5p":[3,-3,"middle"],"miR-141-3p":[-16,10,"middle"],"miR-122-3p":[-16,-28.6,"middle",[-5,-25,-0.5,-13]]},
  arB:[-0.28,-3.48], arR:[0.24,3.47], arY:860, tB:[-1.72,"CCA"], tR:[1.64,"CCA-Like"], tY:871});
</script></body></html>
